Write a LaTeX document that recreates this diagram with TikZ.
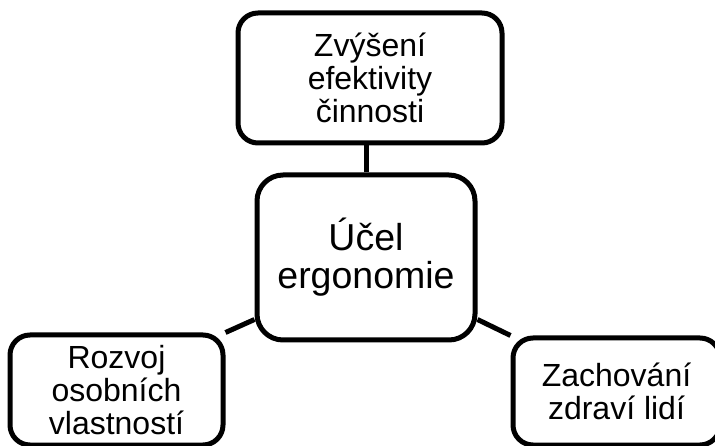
\documentclass[tikz,border=0pt]{standalone}
\usepackage{fontspec}
\setmainfont{Liberation Sans}
\usetikzlibrary{calc,backgrounds}
\tikzset{
  goal node/.style={draw=black,fill=white,line width=5pt,rounded corners=20pt,align=center,inner sep=0pt,font=\fontsize{32}{33}\selectfont},
  main node/.style={goal node,rounded corners=26pt,font=\fontsize{37.5}{38}\selectfont},
  goal link/.style={draw=black,line width=5pt}
}
\begin{document}
\begin{tikzpicture}[x=1pt,y=-1pt]
  \useasboundingbox (0,0) rectangle (715,446);
  \node[main node,minimum width=218pt,minimum height=165pt] (ucel) at (366,257.5) {Účel\\ergonomie};
  \node[goal node,minimum width=264pt,minimum height=130pt] (efekt) at (370,78) {Zvýšení\\efektivity\\činnosti};
  \node[goal node,minimum width=213pt,minimum height=110pt] (rozvoj) at (116.5,390) {Rozvoj\\osobních\\vlastností};
  \node[goal node,minimum width=207pt,minimum height=107pt] (zdravi) at (616.5,391.5) {Zachování\\zdraví lidí};
  \begin{scope}[on background layer]
    \draw[goal link] (ucel.north) -- (ucel.north |- efekt.south);
    \draw[goal link] ($(ucel.south west)+(0,-23)$) -- (rozvoj.north east);
    \draw[goal link] ($(ucel.south east)+(0,-23)$) -- (zdravi.north west);
  \end{scope}
\end{tikzpicture}
\end{document}
